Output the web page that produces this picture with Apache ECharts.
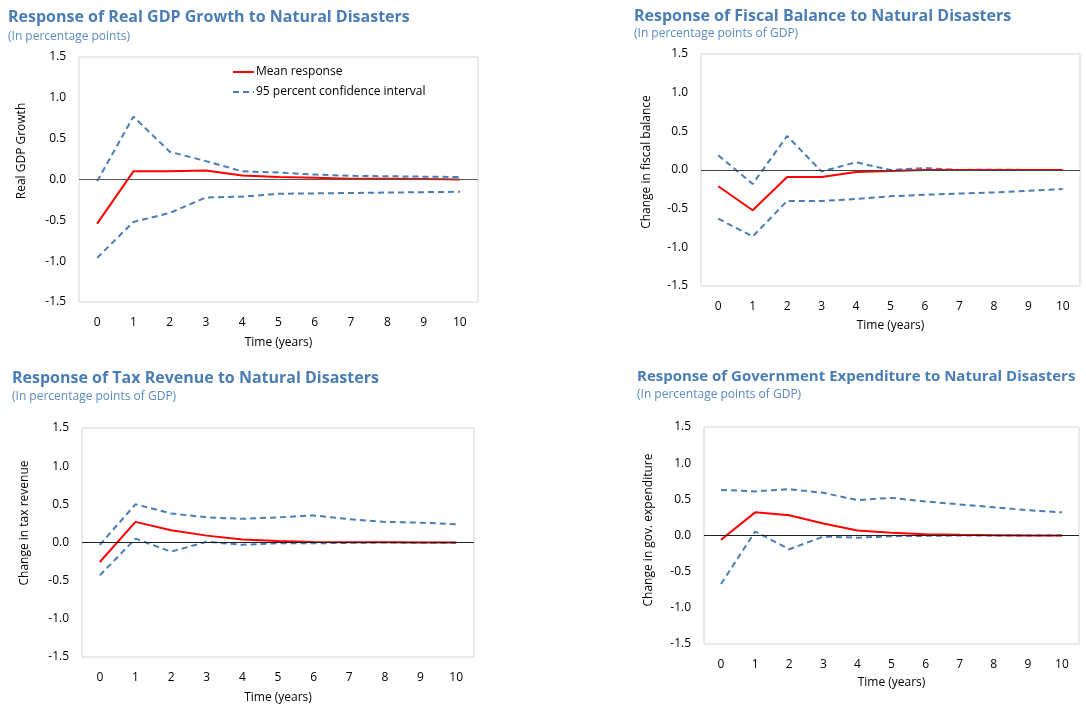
<!DOCTYPE html>
<html>
<head>
<meta charset="utf-8">
<style>
  html, body { margin: 0; padding: 0; background: #fff; }
  #chart { width: 1086px; height: 707px; }
</style>
<script src="https://cdn.jsdelivr.net/npm/echarts@6/dist/echarts.min.js"></script>
</head>
<body>
<div id="chart"></div>
<script>
// Horizon (years after the disaster)
const years = ['0', '1', '2', '3', '4', '5', '6', '7', '8', '9', '10'];

// Real GDP growth (percentage points)
const gdpMean  = [-0.54, 0.10, 0.10, 0.11, 0.05, 0.03, 0.02, 0.01, 0.01, 0.005, 0.0];
const gdpUpper = [-0.02, 0.77, 0.34, 0.225, 0.10, 0.085, 0.06, 0.045, 0.04, 0.035, 0.03];
const gdpLower = [-0.96, -0.52, -0.41, -0.22, -0.21, -0.175, -0.17, -0.165, -0.16, -0.155, -0.15];

// Fiscal balance (percentage points of GDP)
const fbMean  = [-0.21, -0.52, -0.09, -0.09, -0.025, -0.013, 0.0, 0.0, 0.0, 0.0, 0.0];
const fbUpper = [0.19, -0.18, 0.44, -0.02, 0.10, 0.0, 0.026, 0.0, 0.005, 0.0, 0.0];
const fbLower = [-0.63, -0.86, -0.40, -0.40, -0.375, -0.34, -0.32, -0.305, -0.29, -0.27, -0.245];

// Tax revenue (percentage points of GDP)
const taxMean  = [-0.255, 0.27, 0.16, 0.09, 0.04, 0.02, 0.005, 0.003, 0.002, 0.0, 0.0];
const taxUpper = [-0.03, 0.50, 0.38, 0.33, 0.31, 0.33, 0.355, 0.305, 0.27, 0.26, 0.24];
const taxLower = [-0.43, 0.05, -0.12, 0.01, -0.03, -0.01, -0.01, -0.005, 0.0, -0.003, -0.003];

// Government expenditure (percentage points of GDP)
const expMean  = [-0.06, 0.32, 0.28, 0.165, 0.07, 0.037, 0.018, 0.01, 0.005, 0.0, 0.0];
const expUpper = [0.63, 0.61, 0.64, 0.59, 0.49, 0.52, 0.47, 0.43, 0.39, 0.35, 0.32];
const expLower = [-0.67, 0.055, -0.19, -0.015, -0.03, -0.01, -0.005, 0.0, 0.0, 0.0, 0.0];

// Value axis ticks
const yMin = -1.5, yMax = 1.5, yStep = 0.5;

const meanName = 'Mean response';
const ciName = '95 percent confidence interval';

const titleColor = '#4a7db3';
const red = '#ff0000';
const blue = '#4a7db3';
const font = '"Open Sans", "Noto Sans", sans-serif';

const panels = [
  { title: 'Response of Real GDP Growth to Natural Disasters', sub: '(In percentage points)',
    yName: 'Real GDP Growth', mean: gdpMean, upper: gdpUpper, lower: gdpLower,
    grid: { left: 79, top: 57, width: 399, height: 245 },
    titlePos: [8, 9], subPos: [8, 31], titleSize: 16,
    yNamePos: [22, 151], zero: '#595959', nameGap: 35 },
  { title: 'Response of Fiscal Balance to Natural Disasters', sub: '(In percentage points of GDP)',
    yName: 'Change in fiscal balance', mean: fbMean, upper: fbUpper, lower: fbLower,
    grid: { left: 701, top: 54, width: 379, height: 232 },
    titlePos: [634, 8], subPos: [634, 28], titleSize: 16,
    yNamePos: [647, 162], zero: '#404040', nameGap: 34 },
  { title: 'Response of Tax Revenue to Natural Disasters', sub: '(In percentage points of GDP)',
    yName: 'Change in tax revenue', mean: taxMean, upper: taxUpper, lower: taxLower,
    grid: { left: 82, top: 428, width: 392, height: 229 },
    titlePos: [12, 370], subPos: [12, 391], titleSize: 16,
    yNamePos: [25, 523], zero: '#202020', nameGap: 35 },
  { title: 'Response of Government Expenditure to Natural Disasters', sub: '(In percentage points of GDP)',
    yName: 'Change in gov. expenditure', mean: expMean, upper: expUpper, lower: expLower,
    grid: { left: 704, top: 427, width: 375, height: 217 },
    titlePos: [637, 369], subPos: [637, 389], titleSize: 15,
    yNamePos: [649, 530], zero: '#202020', nameGap: 33 }
];

const grids = [], xAxes = [], yAxes = [], series = [], titles = [], graphics = [];

panels.forEach((p, i) => {
  grids.push(Object.assign({ show: true, borderColor: '#d4d4d4', borderWidth: 1, backgroundColor: '#fff' }, p.grid));

  xAxes.push({
    type: 'category', gridIndex: i, data: years, boundaryGap: true,
    name: 'Time (years)', nameLocation: 'middle', nameGap: p.nameGap,
    nameTextStyle: { fontFamily: font, fontSize: 12, color: '#000' },
    axisLine: { show: false }, axisTick: { show: false }, splitLine: { show: false },
    axisLabel: { fontFamily: font, fontSize: 12, color: '#000', margin: 15 }
  });

  yAxes.push({
    type: 'value', gridIndex: i, min: yMin, max: yMax, interval: yStep,
    axisLine: { show: false }, axisTick: { show: false }, splitLine: { show: false },
    axisLabel: { fontFamily: font, fontSize: 12, color: '#000', margin: 13,
      formatter: v => v.toFixed(1) }
  });

  series.push({
    name: meanName, type: 'line', xAxisIndex: i, yAxisIndex: i, data: p.mean,
    symbol: 'none', z: 4,
    lineStyle: { color: red, width: 2 }, itemStyle: { color: red },
    markLine: {
      silent: true, symbol: 'none', label: { show: false },
      lineStyle: { color: p.zero, width: 1, type: 'solid' },
      data: [{ yAxis: 0 }]
    }
  });
  [p.upper, p.lower].forEach(d => series.push({
    name: ciName, type: 'line', xAxisIndex: i, yAxisIndex: i, data: d,
    symbol: 'none', z: 3,
    lineStyle: { color: blue, width: 2, type: [6, 4] }, itemStyle: { color: blue }
  }));

  titles.push({
    text: p.title, left: p.titlePos[0], top: p.titlePos[1], padding: 0,
    textStyle: { fontFamily: font, fontSize: p.titleSize, fontWeight: 'bold', color: titleColor }
  });
  titles.push({
    text: p.sub, left: p.subPos[0], top: p.subPos[1], padding: 0,
    textStyle: { fontFamily: font, fontSize: 12, fontWeight: 'normal', color: '#5a8bc0' }
  });

  graphics.push({
    type: 'text', x: p.yNamePos[0], y: p.yNamePos[1], rotation: Math.PI / 2,
    style: { text: p.yName, align: 'center', verticalAlign: 'middle',
      fontFamily: font, fontSize: 12, fill: '#000' }
  });
});

const chart = echarts.init(document.getElementById('chart'), null, { renderer: 'canvas' });
chart.setOption({
  animation: false,
  backgroundColor: '#fff',
  title: titles,
  legend: {
    data: [meanName, ciName], orient: 'vertical', left: 232, top: 66,
    itemWidth: 21, itemHeight: 10, itemGap: 8, padding: 0,
    itemStyle: { opacity: 0 },
    textStyle: { fontFamily: font, fontSize: 12, color: '#000', padding: [0, 0, 0, -3] }
  },
  grid: grids,
  xAxis: xAxes,
  yAxis: yAxes,
  series: series,
  graphic: graphics
});
</script>
</body>
</html>
